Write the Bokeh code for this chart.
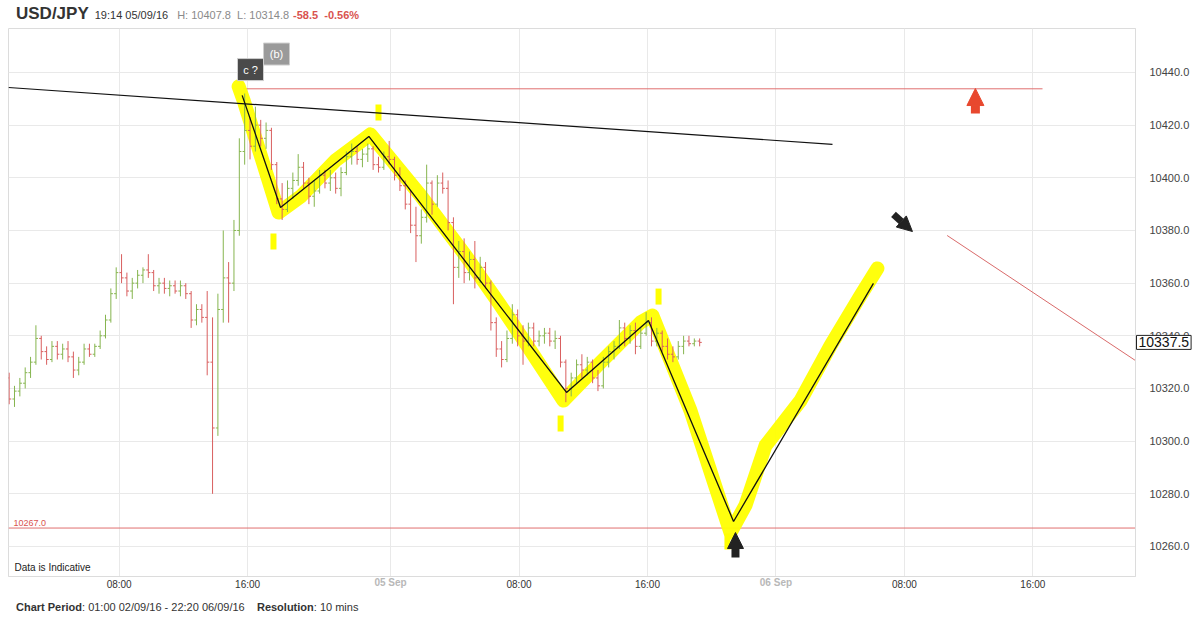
from bokeh.plotting import figure
from bokeh.models import (Range1d, FixedTicker, PrintfTickFormatter, Label, Arrow,
                          NormalHead, Div, ColumnDataSource, LinearAxis)
from bokeh.layouts import column
from bokeh.core.properties import value
from bokeh.embed import file_html
from bokeh.resources import INLINE

# ---------------- data ----------------
symbol = "USD/JPY"
stamp = "19:14 05/09/16"
day_high = "10407.8"
day_low = "10314.8"
change = "-58.5"
change_pct = "-0.56%"
period_text = "01:00 02/09/16 - 22:20 06/09/16"
resolution_text = "10 mins"

# session hours relative to 05 Sep 00:00 (weekend compressed)
bar_start_h = -23.75
bar_step_h = 1 / 3

opens = [10324, 10316, 10319, 10322, 10326, 10330, 10339, 10334, 10331, 10336,
         10333, 10335, 10332, 10327, 10330, 10335, 10333, 10336, 10340, 10346,
         10356, 10364, 10362, 10357, 10360, 10363, 10365, 10364, 10359, 10360,
         10358, 10359, 10357, 10359, 10356, 10346, 10350, 10347, 10330, 10305,
         10350, 10362, 10360, 10380, 10410, 10418, 10412, 10420, 10415, 10418,
         10405, 10392, 10388, 10396, 10399, 10404, 10398, 10393, 10395, 10401,
         10398, 10400, 10396, 10402, 10408, 10410, 10407, 10409, 10411, 10405,
         10404, 10408, 10407, 10401, 10397, 10390, 10382, 10378, 10385, 10398,
         10390, 10398, 10396, 10383, 10366, 10372, 10364, 10369, 10362, 10366,
         10360, 10345, 10335, 10331, 10339, 10348, 10340, 10338, 10343, 10338,
         10340, 10341, 10338, 10339, 10330, 10320, 10324, 10329, 10327, 10330,
         10324, 10321, 10330, 10334, 10336, 10343, 10339, 10342, 10336, 10341,
         10345, 10338, 10341, 10336, 10333, 10332, 10336, 10338, 10337, 10338]
highs = [10326, 10321, 10324, 10328, 10332, 10344, 10340, 10336, 10338, 10338,
         10337, 10338, 10334, 10332, 10337, 10337, 10337, 10342, 10348, 10358,
         10366, 10371, 10364, 10362, 10365, 10366, 10371, 10365, 10362, 10362,
         10361, 10361, 10361, 10360, 10357, 10352, 10352, 10357, 10347, 10356,
         10380, 10368, 10384, 10415, 10432, 10423, 10427, 10422, 10421, 10419,
         10406, 10398, 10399, 10402, 10409, 10406, 10400, 10399, 10403, 10403,
         10403, 10402, 10404, 10410, 10413, 10412, 10411, 10413, 10412, 10408,
         10410, 10414, 10408, 10404, 10399, 10395, 10389, 10388, 10405, 10399,
         10401, 10402, 10399, 10385, 10376, 10377, 10372, 10376, 10370, 10368,
         10361, 10347, 10338, 10342, 10352, 10350, 10344, 10345, 10345, 10342,
         10343, 10343, 10342, 10340, 10331, 10326, 10331, 10333, 10332, 10331,
         10327, 10332, 10336, 10338, 10346, 10345, 10344, 10345, 10343, 10349,
         10347, 10343, 10342, 10339, 10336, 10338, 10340, 10340, 10339, 10339]
lows = [10314, 10313, 10317, 10320, 10324, 10329, 10331, 10329, 10330, 10331,
        10331, 10330, 10324, 10325, 10329, 10332, 10332, 10335, 10339, 10345,
        10354, 10360, 10355, 10354, 10358, 10360, 10362, 10357, 10356, 10356,
        10355, 10356, 10355, 10354, 10343, 10344, 10345, 10325, 10280, 10302,
        10345, 10345, 10357, 10378, 10405, 10407, 10410, 10412, 10411, 10403,
        10390, 10384, 10387, 10392, 10397, 10396, 10390, 10389, 10394, 10396,
        10395, 10394, 10393, 10401, 10405, 10405, 10404, 10406, 10403, 10402,
        10403, 10405, 10399, 10395, 10388, 10379, 10368, 10375, 10383, 10386,
        10389, 10394, 10380, 10352, 10362, 10360, 10361, 10358, 10360, 10358,
        10342, 10332, 10328, 10330, 10337, 10336, 10329, 10336, 10336, 10336,
        10337, 10336, 10335, 10328, 10314.8, 10317, 10322, 10324, 10325, 10322,
        10319, 10320, 10328, 10331, 10335, 10336, 10337, 10333, 10335, 10340,
        10336, 10336, 10334, 10331, 10330, 10331, 10333, 10336, 10336, 10336]
closes = [10316, 10319, 10322, 10326, 10330, 10339, 10334, 10331, 10336, 10333,
          10335, 10332, 10327, 10330, 10335, 10333, 10336, 10340, 10346, 10356,
          10364, 10362, 10357, 10360, 10363, 10365, 10364, 10359, 10360, 10358,
          10359, 10357, 10359, 10356, 10346, 10350, 10347, 10330, 10305, 10350,
          10362, 10360, 10380, 10410, 10418, 10412, 10420, 10415, 10418, 10405,
          10392, 10388, 10396, 10399, 10404, 10398, 10393, 10395, 10401, 10398,
          10400, 10396, 10402, 10408, 10410, 10407, 10409, 10411, 10405, 10404,
          10408, 10407, 10401, 10397, 10390, 10382, 10378, 10385, 10398, 10390,
          10398, 10396, 10383, 10366, 10372, 10364, 10369, 10362, 10366, 10360,
          10345, 10335, 10331, 10339, 10348, 10340, 10338, 10343, 10338, 10340,
          10341, 10338, 10339, 10330, 10320, 10324, 10329, 10327, 10330, 10324,
          10321, 10330, 10334, 10336, 10343, 10339, 10342, 10336, 10341, 10345,
          10338, 10341, 10336, 10333, 10332, 10336, 10338, 10337, 10338, 10337.5]

xtick_pos = [-16.9, -8.9, 0, 8, 16, 24, 32, 40]
xtick_lab = ["08:00", "16:00", "05 Sep", "08:00", "16:00", "06 Sep", "08:00", "16:00"]
ytick_vals = [10260, 10280, 10300, 10320, 10340, 10360, 10380, 10400, 10420, 10440]

support_level = 10267.0
resistance_level = 10433.8
resistance_x = [-9.17, 40.6]
trend_x = [-23.79, 27.52]
trend_y = [10434.3, 10412.7]
proj_red_x = [34.66, 46.39]
proj_red_y = [10378.1, 10330.6]

wave_x = [-9.24, -6.85, -1.35, 10.96, 16.06, 21.36, 30.07]
wave_y = [10431.3, 10388.7, 10415.7, 10318.5, 10345.8, 10269.5, 10359.9]

hl_x = [-9.46, -9.15, -6.97, -5.60, -3.42, -1.25, 1.87, 4.67, 6.85, 8.72, 10.77,
        13.08, 15.57, 16.31, 18.68, 21.17, 22.10, 23.35, 25.53, 27.40, 29.27, 30.32]
hl_y = [10434.7, 10429.4, 10386.8, 10392.9, 10406.6, 10416.5, 10393.3, 10370.5,
        10351.5, 10334.4, 10315.4, 10329.9, 10345.1, 10347.7, 10311.6, 10265.3,
        10275.6, 10298.3, 10315.4, 10336.3, 10355.3, 10365.6]
mark_x = [-7.29, -0.75, 10.59, 16.69, 20.98]
mark_y = [10375.8, 10424.8, 10306.7, 10354.9, 10261.9]

tag_x = [-8.72, -7.10]
tag_y = [10441.1, 10447.0]
tag_text = ["c ?", "(b)"]
tag_color = ["#4a4a4a", "#9a9a9a"]

# ---------------- figure ----------------
FONT = "Liberation Sans"
UP, DOWN = "#86b54f", "#d95f5f"
X_LO, X_HI = -23.79, 46.39
Y_LO, Y_HI = 10248.6, 10456.7

p = figure(width=1196, height=590, x_range=Range1d(X_LO, X_HI), y_range=Range1d(Y_LO, Y_HI),
           output_backend="svg", toolbar_location=None, y_axis_location="right",
           min_border_left=8, min_border_right=61, min_border_top=0, min_border_bottom=42)
p.outline_line_color = "#dcdcdc"
p.background_fill_color = "white"
p.border_fill_color = "white"

p.xgrid.grid_line_color = "#e9e9e9"
p.ygrid.grid_line_color = "#e9e9e9"

ya = p.yaxis[0]
ya.ticker = FixedTicker(ticks=ytick_vals)
ya.formatter = PrintfTickFormatter(format="%.1f")
ya.major_tick_line_color = None
ya.minor_tick_line_color = None
ya.axis_line_color = "#dcdcdc"
ya.major_label_standoff = 8
ya.major_label_text_font = FONT
ya.major_label_text_font_size = "11px"
ya.major_label_text_color = "#444444"

xa = p.xaxis[0]
xa.ticker = FixedTicker(ticks=xtick_pos)
xa.major_label_overrides = {pos: ("" if "Sep" in lab else lab) for pos, lab in zip(xtick_pos, xtick_lab)}
xa.major_tick_line_color = None
xa.minor_tick_line_color = None
xa.major_tick_out = 0
xa.axis_line_color = "#dcdcdc"
xa.major_label_standoff = 2
xa.major_label_text_font = FONT
xa.major_label_text_font_size = "10px"
xa.major_label_text_color = "#333333"

# date labels: second axis drawn on the same row as the time labels
date_pos = [pos for pos, lab in zip(xtick_pos, xtick_lab) if "Sep" in lab]
date_axis = LinearAxis(ticker=FixedTicker(ticks=date_pos),
                       major_label_overrides={pos: lab for pos, lab in zip(xtick_pos, xtick_lab) if "Sep" in lab},
                       axis_line_color=None, major_tick_line_color=None, minor_tick_line_color=None,
                       major_tick_out=0, major_label_standoff=-16,
                       major_label_text_font=FONT, major_label_text_font_size="10px",
                       major_label_text_font_style="bold", major_label_text_color="#b8b8b8")
p.add_layout(date_axis, "below")

# horizontal / trend lines
p.line([X_LO, X_HI], [support_level, support_level], line_color="#e07070", line_width=1)
p.line(resistance_x, [resistance_level, resistance_level], line_color="#e07070", line_width=1)
p.line(proj_red_x, proj_red_y, line_color="#d96a6a", line_width=1)

# yellow highlighter
p.line(hl_x, hl_y, line_color="#ffff00", line_width=14, line_join="round", line_cap="round", alpha=0.95)
p.rect(mark_x, mark_y, width=6, height=16, width_units="screen", height_units="screen",
       fill_color="#ffff00", line_color=None)

# OHLC bars
n = len(closes)
xs = [bar_start_h + i * bar_step_h for i in range(n)]
tick = 2.1 / 16.06
src = ColumnDataSource(dict(
    x=xs, o=opens, h=highs, l=lows, c=closes,
    xl=[x - tick for x in xs], xr=[x + tick for x in xs],
    color=[UP if c >= o else DOWN for o, c in zip(opens, closes)]))
p.segment("x", "h", "x", "l", source=src, line_color="color", line_width=1)
p.segment("xl", "o", "x", "o", source=src, line_color="color", line_width=1)
p.segment("x", "c", "xr", "c", source=src, line_color="color", line_width=1)

# trend line and wave count
p.line(trend_x, trend_y, line_color="#111111", line_width=1.2)
p.line(wave_x, wave_y, line_color="#111111", line_width=1.3)

# wave tags
p.rect(tag_x, tag_y, width=26, height=22, width_units="screen", height_units="screen",
       fill_color=tag_color, line_color="#cfcfcf")
p.text(tag_x, tag_y, text=tag_text, text_font=value(FONT), text_font_size=value("11px"),
       text_color="white", text_align="center", text_baseline="middle")

# arrows
p.add_layout(Arrow(end=NormalHead(size=17, fill_color="#e8482e", line_color="#e8482e"),
                   x_start=36.42, y_start=10424.4, x_end=36.42, y_end=10433.9,
                   line_color="#e8482e", line_width=9))
p.add_layout(Arrow(end=NormalHead(size=15, fill_color="#222222", line_color="#222222"),
                   x_start=31.32, y_start=10386.1, x_end=32.50, y_end=10379.6,
                   line_color="#222222", line_width=7))
p.add_layout(Arrow(end=NormalHead(size=16, fill_color="#222222", line_color="#222222"),
                   x_start=21.48, y_start=10255.8, x_end=21.48, y_end=10265.3,
                   line_color="#222222", line_width=8))

# labels
p.add_layout(Label(x=X_LO, y=support_level, x_offset=5, y_offset=2, text=f"{support_level:.1f}",
                   text_baseline="bottom", text_font=FONT, text_font_size="9px", text_color="#d9534f"))
p.add_layout(Label(x=X_LO, y=10252.0, x_offset=6, text="Data is Indicative", text_baseline="middle",
                   text_font=FONT, text_font_size="10px", text_color="#222222",
                   background_fill_color="white"))
# last-price box: placed in a side panel so it is not clipped to the frame
p.add_layout(Label(x=X_HI, y=closes[-1], x_offset=1, text=f"{closes[-1]:.1f}", text_baseline="middle",
                   text_align="left", text_font=FONT, text_font_size="14px", text_color="#111111",
                   border_line_color="#222222", background_fill_color="white", padding=2), "below")

title_html = (
    '<div style="font-family:\'Liberation Sans\',Arial,sans-serif;white-space:nowrap;'
    'line-height:28px;padding-left:16px;">'
    f'<span style="font-size:17px;font-weight:bold;color:#333;">{symbol}</span>'
    f'<span style="font-size:11px;color:#333;margin-left:6px;">{stamp}</span>'
    f'<span style="font-size:11px;color:#8a8a8a;margin-left:9px;">H: {day_high}&nbsp; L: {day_low}</span>'
    f'<span style="font-size:11px;color:#d9534f;font-weight:bold;margin-left:4px;">{change}&nbsp; {change_pct}</span>'
    '</div>')
footer_html = (
    '<div style="font-family:\'Liberation Sans\',Arial,sans-serif;white-space:nowrap;'
    'font-size:11px;color:#333;line-height:22px;padding-left:16px;">'
    f'<b>Chart Period</b>: {period_text} &nbsp;&nbsp; <b>Resolution</b>: {resolution_text}'
    '</div>')

title_div = Div(text=title_html, width=1196, height=28, margin=(0, 0, 0, 0))
footer_div = Div(text=footer_html, width=1196, height=22, margin=(-22, 0, 0, 0))

layout = column(title_div, p, footer_div, spacing=0)
open("out.html", "w").write(file_html(layout, INLINE))
